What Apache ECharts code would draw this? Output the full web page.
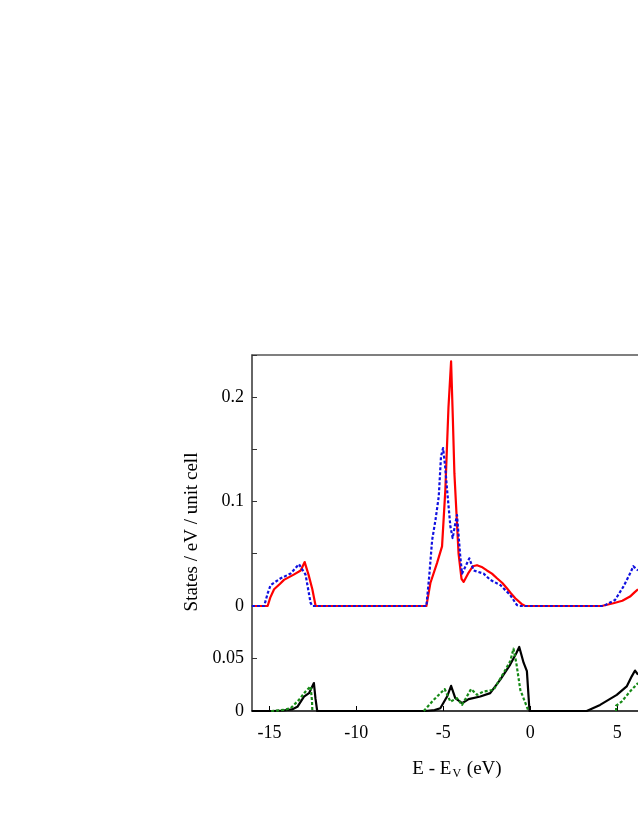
<!DOCTYPE html>
<html><head><meta charset="utf-8">
<script src="https://cdn.jsdelivr.net/npm/echarts@6/dist/echarts.min.js"></script>
<style>html,body{margin:0;padding:0;background:#fff}#c{width:638px;height:825px}</style>
</head><body><div id="c"></div>
<script>
// ---- data ----
var xTickValues = [-15, -10, -5, 0, 5];
var yTopLabels = [0, 0.1, 0.2];
var yBottomLabels = [0, 0.05];

var redSolid = [[-16,0],[-15.1,0],[-14.95,0.008],[-14.73,0.016],[-14.4,0.021],[-14.16,0.025],[-13.6,0.030],[-13.2,0.034],[-12.97,0.042],[-12.75,0.030],[-12.53,0.016],[-12.34,0],
  [-5.97,0],[-5.74,0.022],[-5.36,0.041],[-5.07,0.057],[-4.88,0.111],[-4.7,0.19],[-4.55,0.234],[-4.45,0.18],[-4.36,0.127],[-4.12,0.050],[-3.95,0.026],[-3.83,0.023],[-3.7,0.027],[-3.54,0.032],[-3.3,0.038],[-3.06,0.039],[-2.75,0.037],[-2.49,0.034],[-2.2,0.031],[-1.91,0.0265],[-1.6,0.022],[-1.34,0.017],[-1.1,0.012],[-0.86,0.0074],[-0.5,0.002],[-0.29,0],
  [4.11,0],[4.78,0.0026],[5.3,0.005],[5.74,0.009],[6.0,0.013],[6.2,0.016]];
var blueDotted = [[-16,0],[-15.3,0],[-15.1,0.012],[-14.93,0.020],[-14.35,0.0265],[-13.78,0.031],[-13.3,0.040],[-12.92,0.030],[-12.63,0.003],[-12.53,0],
  [-5.97,0],[-5.8,0.03],[-5.64,0.063],[-5.45,0.082],[-5.26,0.1045],[-5.13,0.143],[-5.01,0.151],[-4.9,0.135],[-4.78,0.111],[-4.59,0.076],[-4.46,0.065],[-4.35,0.075],[-4.21,0.087],[-4.02,0.047],[-3.92,0.031],[-3.73,0.0376],[-3.5,0.0456],[-3.25,0.034],[-2.68,0.031],[-2.3,0.025],[-1.72,0.020],[-1.15,0.0105],[-0.77,0.001],[-0.6,0],
  [4.21,0],[4.88,0.0057],[5.36,0.0185],[5.74,0.031],[5.93,0.038],[6.2,0.034]];
var blackSolid = [[-16,0],[-14.8,0],[-14.2,0.0005],[-13.7,0.0015],[-13.39,0.004],[-13.01,0.0137],[-12.72,0.017],[-12.44,0.0266],[-12.35,0.012],[-12.25,0],
  [-6.03,0],[-5.5,0.0008],[-5.17,0.0026],[-4.78,0.0138],[-4.55,0.024],[-4.31,0.0122],[-3.92,0.0074],[-3.54,0.0113],[-2.87,0.0138],[-2.3,0.017],[-1.72,0.0298],[-1.15,0.0442],[-0.8,0.055],[-0.63,0.061],[-0.38,0.046],[-0.19,0.038],[-0.04,0],
  [3.25,0],[4.02,0.0058],[4.98,0.0154],[5.55,0.0234],[5.84,0.033],[6.03,0.0385],[6.2,0.0346]];
var greenDotted = [[-14.9,0],[-14.2,0.001],[-13.78,0.0026],[-13.3,0.0106],[-12.92,0.0186],[-12.63,0.0234],[-12.55,0.01],[-12.53,0],null,
  [-6.12,0],[-5.55,0.0106],[-4.92,0.0209],[-4.59,0.0089],[-4.21,0.0122],[-3.92,0.0058],[-3.4,0.0209],[-3.06,0.0154],[-2.68,0.0186],[-2.1,0.0202],[-1.53,0.0362],[-1.15,0.0474],[-0.96,0.0593],[-0.8,0.0459],[-0.57,0.0202],[-0.1,0],null,
  [4.94,0],[4.94,0.005],[5.26,0.0089],[5.74,0.0186],[6.2,0.0266]];

var FONT = 'Liberation Serif';
var chart = echarts.init(document.getElementById('c'), null, {renderer: 'canvas'});

function lineS(data, color, dotted, xi) {
  return {
    type: 'line', data: data, xAxisIndex: xi, yAxisIndex: xi,
    showSymbol: false, symbol: 'none', clip: false, connectNulls: false,
    lineStyle: {color: color, width: 2.2, type: dotted ? [3, 2] : 'solid', join: 'round'},
    animation: false, silent: true
  };
}

chart.setOption({
  animation: false,
  grid: [
    {left: 252, right: 0, top: 355, height: 251},
    {left: 252, right: 0, top: 606, height: 105}
  ],
  xAxis: [
    {type: 'value', gridIndex: 0, position: 'top', min: -16, max: 6.2,
     axisLine: {show: true, onZero: false, lineStyle: {color: '#555', width: 1.5}},
     axisTick: {show: false}, axisLabel: {show: false}, splitLine: {show: false}},
    {type: 'value', gridIndex: 1, position: 'bottom', min: -16, max: 6.2,
     axisLine: {show: true, onZero: false, lineStyle: {color: '#000', width: 1.5}},
     axisTick: {show: true, inside: true, length: 5, customValues: xTickValues, lineStyle: {color: '#000', width: 1}},
     axisLabel: {show: true, customValues: xTickValues, margin: 13, color: '#000', fontFamily: FONT, fontSize: 18,
       formatter: function (v) { return String(v); }},
     splitLine: {show: false}}
  ],
  yAxis: [
    {type: 'value', gridIndex: 0, min: 0, max: 0.24, interval: 0.05,
     axisLine: {show: true, onZero: false, lineStyle: {color: '#333', width: 1.5}},
     axisTick: {show: true, inside: true, length: 5, lineStyle: {color: '#333', width: 1}},
     axisLabel: {show: true, customValues: yTopLabels, margin: 8, color: '#000', fontFamily: FONT, fontSize: 18,
       formatter: function (v) { return v === 0 ? '0' : String(+v.toFixed(2)); }},
     splitLine: {show: false}},
    {type: 'value', gridIndex: 1, min: 0, max: 0.1, interval: 0.05,
     axisLine: {show: true, onZero: false, lineStyle: {color: '#333', width: 1.5}},
     axisTick: {show: true, inside: true, length: 5, customValues: yBottomLabels, lineStyle: {color: '#333', width: 1}},
     axisLabel: {show: true, customValues: yBottomLabels, margin: 8, color: '#000', fontFamily: FONT, fontSize: 18,
       formatter: function (v) { return v === 0 ? '0' : String(+v.toFixed(2)); }},
     splitLine: {show: false}}
  ],
  series: [
    lineS(redSolid, '#ff0000', false, 0),
    lineS(blueDotted, '#1010e0', true, 0),
    lineS(blackSolid, '#000000', false, 1),
    lineS(greenDotted, '#168a16', true, 1)
  ],
  graphic: [
    {type: 'text', x: 192, y: 532, rotation: Math.PI / 2,
     style: {text: 'States / eV / unit cell', font: '19px "' + FONT + '"', fill: '#000', align: 'center', verticalAlign: 'middle'}},
    {type: 'text', x: 457, y: 769,
     style: {text: '{a|E - E}{s|V}{a| (eV)}', align: 'center', verticalAlign: 'middle', fill: '#000',
       rich: {a: {fontFamily: FONT, fontSize: 19, fill: '#000'}, s: {fontFamily: FONT, fontSize: 12, fill: '#000', padding: [9, 1, 0, 1]}}}}
  ]
});
</script></body></html>
